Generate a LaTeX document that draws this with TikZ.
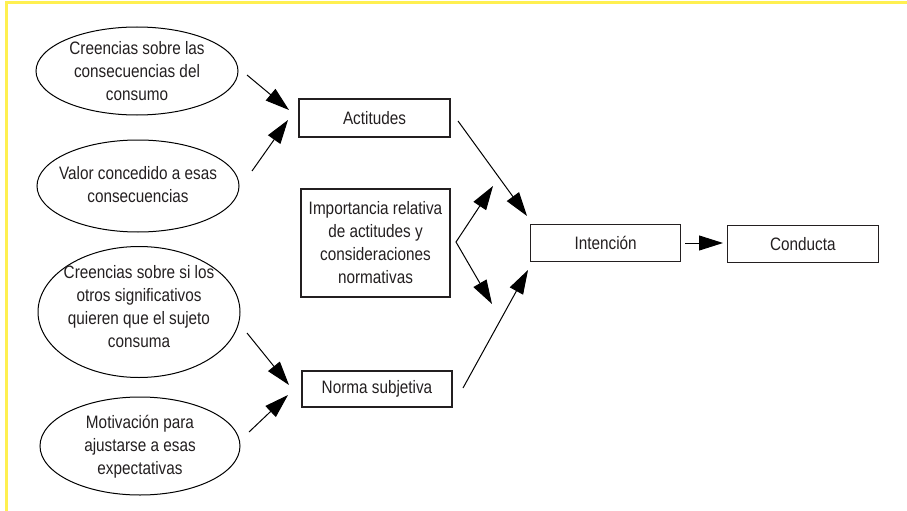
\documentclass[tikz,border=0pt]{standalone}
\usepackage{fontspec}
\setmainfont{Liberation Sans}[FakeStretch=0.85]
\usetikzlibrary{arrows.meta,shapes.geometric}
\definecolor{frameyellow}{RGB}{255,240,80}
\definecolor{inkgray}{RGB}{35,31,32}
\begin{document}
\begin{tikzpicture}[x=1pt,y=-1pt,
  txt/.style={font=\fontsize{18}{23}\selectfont, text=inkgray, align=center, inner sep=0pt},
  ellbox/.style={draw=black, line width=1pt, ellipse, inner sep=0pt},
  rectbox/.style={draw=inkgray, line width=1.3pt, rectangle, inner sep=0pt, font=\fontsize{18}{23}\selectfont, text=inkgray, align=center},
  arr/.style={draw=black, line width=1pt, -{Triangle[length=24pt,width=15pt]}},
  dblarr/.style={draw=black, line width=1pt, {Triangle[length=24pt,width=15pt]}-{Triangle[length=24pt,width=15pt]}}
]
\useasboundingbox (0,0) rectangle (907,511);
% frame
\coordinate (ftl) at (6,3);
\coordinate (ftr) at (907,3);
\coordinate (fbl) at (6,511);
\draw[frameyellow, line width=3pt] (ftr) -- (ftl) -- (fbl);

% ellipses
\node[ellbox, minimum width=202pt, minimum height=88pt] (e1) at (137,71) {};
\node[txt] (e1t) at (137,71) {Creencias sobre las\\consecuencias del\\consumo};
\node[ellbox, minimum width=202pt, minimum height=92pt] (e2) at (138,186) {};
\node[txt] (e2t) at (138,185) {Valor concedido a esas\\consecuencias};
\node[ellbox, minimum width=202pt, minimum height=131pt] (e3) at (139,312) {};
\node[txt] (e3t) at (139,307) {Creencias sobre si los\\otros significativos\\quieren que el sujeto\\consuma};
\node[ellbox, minimum width=200pt, minimum height=98pt] (e4) at (140,446) {};
\node[txt] (e4t) at (140,447) {Motivación para\\ajustarse a esas\\expectativas};

% boxes
\node[rectbox, minimum width=151pt, minimum height=38pt] (act) at (374.5,118) {Actitudes};
\node[rectbox, minimum width=149pt, minimum height=108pt] (imp) at (375.5,243) {Importancia relativa\\de actitudes y\\consideraciones\\normativas};
\node[rectbox, minimum width=150pt, minimum height=36pt] (norma) at (377,389) {Norma subjetiva};
\node[rectbox, minimum width=150pt, minimum height=37pt] (int) at (605.7,243.3) {Intención};
\node[rectbox, minimum width=151pt, minimum height=37pt] (cond) at (802.8,244) {Conducta};

% connector end points
\coordinate (a1s) at (247,75);   \coordinate (a1e) at (289,110);
\coordinate (a2s) at (252,171);  \coordinate (a2e) at (288,120);
\coordinate (a3s) at (247,333);  \coordinate (a3e) at (289,385);
\coordinate (a4s) at (249,432);  \coordinate (a4e) at (288,395);
\coordinate (a5s) at (458,121);  \coordinate (a5e) at (527,216);
\coordinate (a6s) at (463,388);  \coordinate (a6e) at (528,270);
\coordinate (fv) at (456,242);
\coordinate (ft1) at (493,186);  \coordinate (ft2) at (492,304);
\coordinate (a7s) at (685,243);  \coordinate (a7e) at (723,243);

\draw[arr] (a1s) -- (a1e);
\draw[arr] (a2s) -- (a2e);
\draw[arr] (a3s) -- (a3e);
\draw[arr] (a4s) -- (a4e);
\draw[arr] (a5s) -- (a5e);
\draw[arr] (a6s) -- (a6e);
\draw[dblarr] (ft1) -- (fv) -- (ft2);
\draw[arr] (a7s) -- (a7e);
\end{tikzpicture}
\end{document}
